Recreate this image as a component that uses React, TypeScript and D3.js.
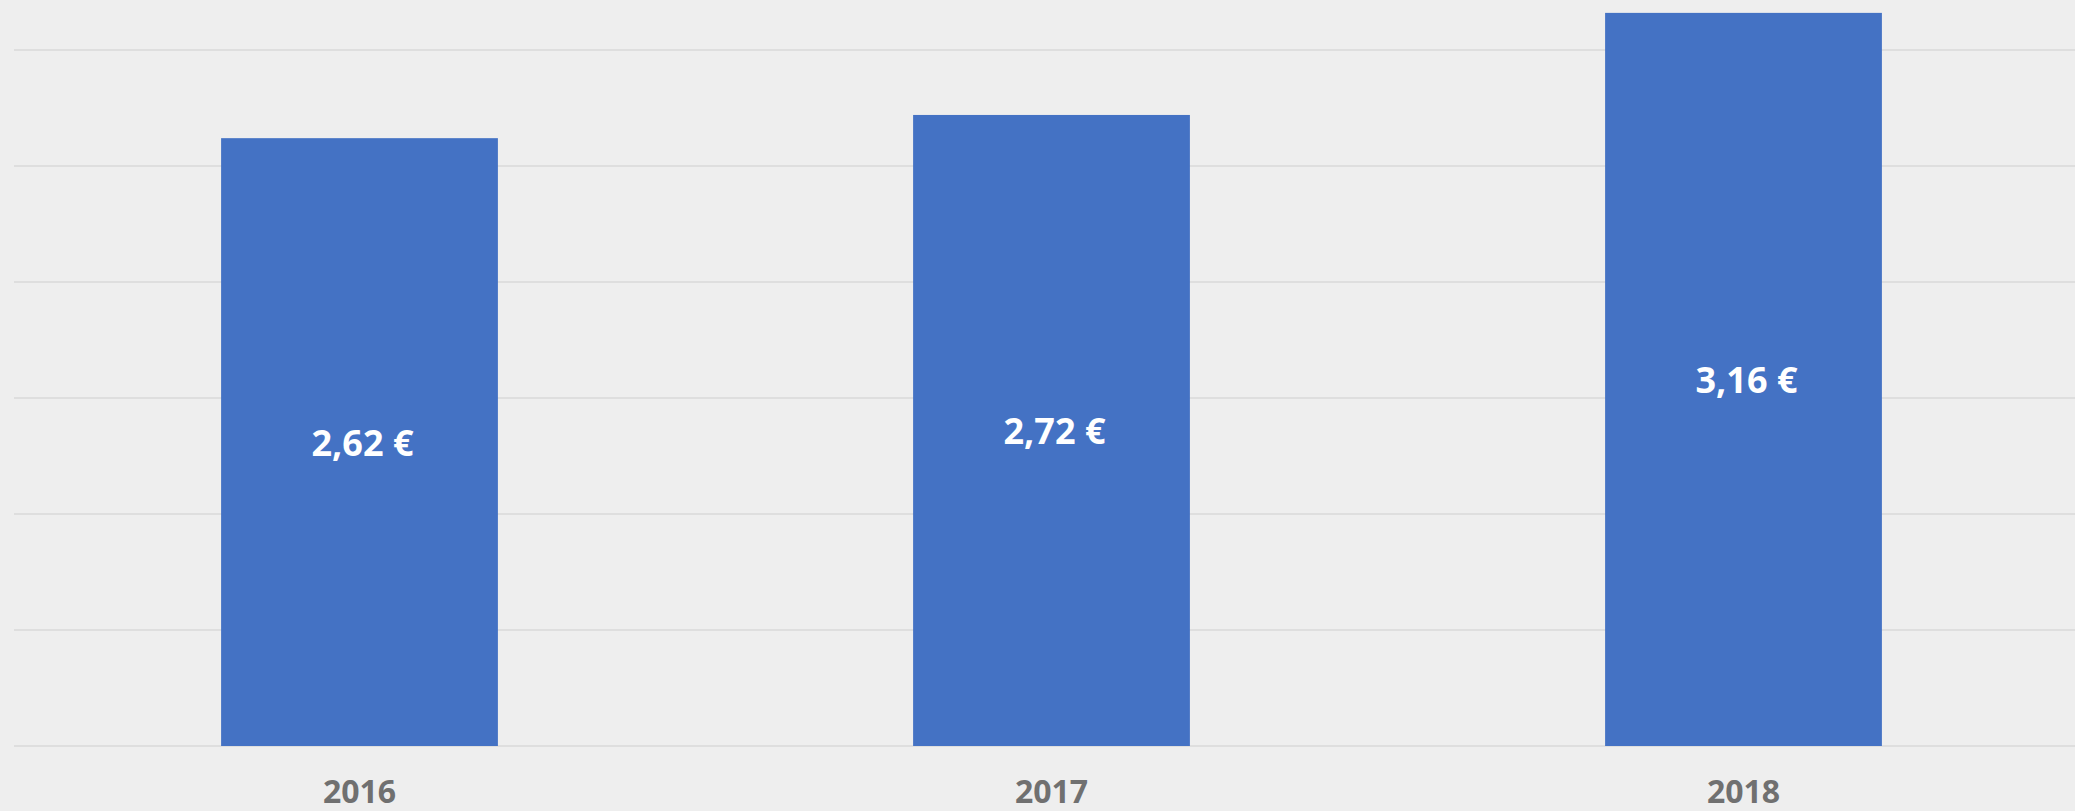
import React from "react";
import * as d3 from "d3";

const years = ["2016", "2017", "2018"];
const values = [2.62, 2.72, 3.16];
const valueLabels = ["2,62 €", "2,72 €", "3,16 €"];
const gridTicks = [0, 0.5, 1, 1.5, 2, 2.5, 3];

const W = 2075;
const H = 811;

export default function App() {
  const x = d3.scaleBand<string>().domain(years).range([13.5, 2089.5]).paddingInner(0.6).paddingOuter(0.3);
  const y = d3.scaleLinear().domain([0, 3]).range([746, 50]);
  const font = "'Open Sans', 'Liberation Sans', sans-serif";
  return (
    <svg width={W} height={H} style={{ position: "absolute", left: 0, top: 0, display: "block" }}>
      <rect x={0} y={0} width={W} height={H} fill="#eeeeee" />
      {gridTicks.map((t) => (
        <line key={t} x1={14} x2={W} y1={y(t)} y2={y(t)} stroke="#d8d8d8" strokeWidth={1.5} />
      ))}
      {years.map((yr, i) => (
        <rect key={yr} x={x(yr)} y={y(values[i])} width={x.bandwidth()} height={y(0) - y(values[i])} fill="#4472C4" />
      ))}
      {years.map((yr, i) => (
        <text
          key={"v" + yr}
          x={(x(yr) as number) + x.bandwidth() / 2 + 3}
          y={(y(values[i]) + y(0)) / 2}
          textAnchor="middle"
          dominantBaseline="central"
          fontFamily={font}
          fontWeight={700}
          fontSize={36}
          fill="#ffffff"
        >
          {valueLabels[i]}
        </text>
      ))}
      {years.map((yr) => (
        <text
          key={"l" + yr}
          x={(x(yr) as number) + x.bandwidth() / 2}
          y={803}
          textAnchor="middle"
          fontFamily={font}
          fontWeight={700}
          fontSize={32}
          fill="#707070"
        >
          {yr}
        </text>
      ))}
    </svg>
  );
}
